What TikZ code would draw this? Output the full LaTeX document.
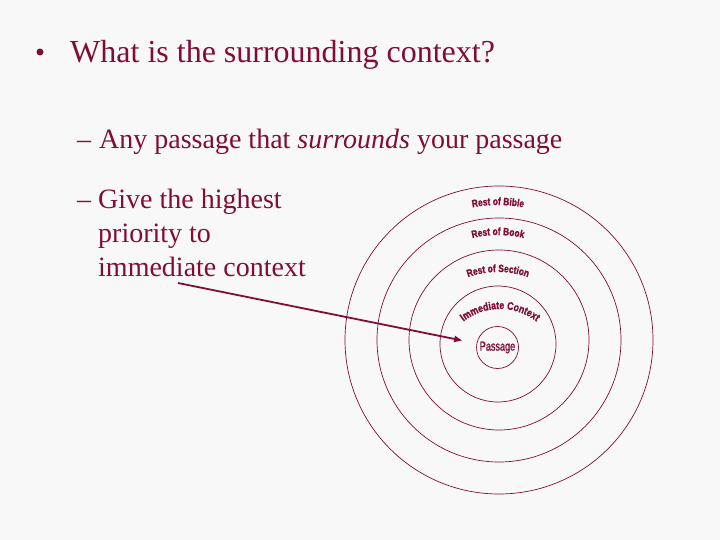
\documentclass[tikz,border=0pt]{standalone}
\usepackage{fontspec}
\setmainfont{Liberation Serif}
\newfontfamily\labelfont[FakeStretch=0.8,FakeBold=1.2]{Liberation Sans}
\newfontfamily\narrowfont[FakeStretch=0.7,FakeBold=1.2]{Liberation Sans}
\usetikzlibrary{arrows.meta,decorations.text}
\definecolor{wine}{RGB}{128,14,50}
\definecolor{paper}{RGB}{248,248,248}
\newcommand\arcfont{\labelfont\bfseries\fontsize{10.5}{12}\selectfont\color{wine}}
\newcommand\bigarcfont{\labelfont\bfseries\fontsize{11}{13}\selectfont\color{wine}}

\begin{document}
\begin{tikzpicture}[
  x=1pt, y=1pt,
  line/.style={font=\fontsize{28}{34}\selectfont,text=wine,inner sep=0pt,anchor=base west},
  ring/.style={circle,draw=wine,line width=0.7pt,inner sep=0pt},
  arclabel/.style={decorate,decoration={text along path,text align=center,text={|\arcfont|#1}}},
  bigarclabel/.style={decorate,decoration={text along path,text align=center,text={|\bigarcfont|#1}}},
  pointer/.style={draw=wine,line width=1.8pt,-{Triangle[length=8pt,width=6pt]}}
]
  \fill[paper] (0,0) rectangle (720,-540);

  \node[circle,fill=wine,inner sep=0pt,minimum size=7pt] (dot) at (40,-52) {};
  \node[line,font=\fontsize{32}{38}\selectfont] (title) at (70,-63) {What is the surrounding context?};

  \node[line] (dash1) at (77,-149) {–};
  \node[line] (anyline) at (99,-149) {Any passage that \textit{surrounds} your passage};
  \node[line] (dash2) at (77,-208) {–};
  \node[line] (give1) at (98,-208) {Give the highest};
  \node[line] (give2) at (98,-242) {priority to};
  \node[line] (give3) at (98,-276) {immediate context};

  \node[ring,minimum size=308pt] (bible) at (499,-340) {};
  \node[ring,minimum size=244pt] (book) at (499,-340) {};
  \node[ring,minimum size=180pt] (section) at (499,-340) {};
  \node[ring,minimum size=116pt] (immediate) at (498,-344) {};
  \node[ring,minimum size=42pt,text=wine,font=\narrowfont\fontsize{13}{15}\selectfont] (passage) at (497.5,-347.5) {Passage};

  \path[arclabel=Rest of Bible] ([shift={(115:135)}]498,-340) arc[start angle=115,end angle=65,radius=135];
  \path[arclabel=Rest of Book] ([shift={(120:105)}]498,-340) arc[start angle=120,end angle=60,radius=105];
  \path[arclabel=Rest of Section] ([shift={(125:88)}]498,-360) arc[start angle=125,end angle=55,radius=88];
  \path[bigarclabel=Immediate Context] ([shift={(150:59)}]500,-368) arc[start angle=150,end angle=30,radius=59];

  \coordinate (tail) at (178,-283);
  \draw[pointer] (tail) -- ([shift={(-14,7)}]passage.west);
\end{tikzpicture}
\end{document}
